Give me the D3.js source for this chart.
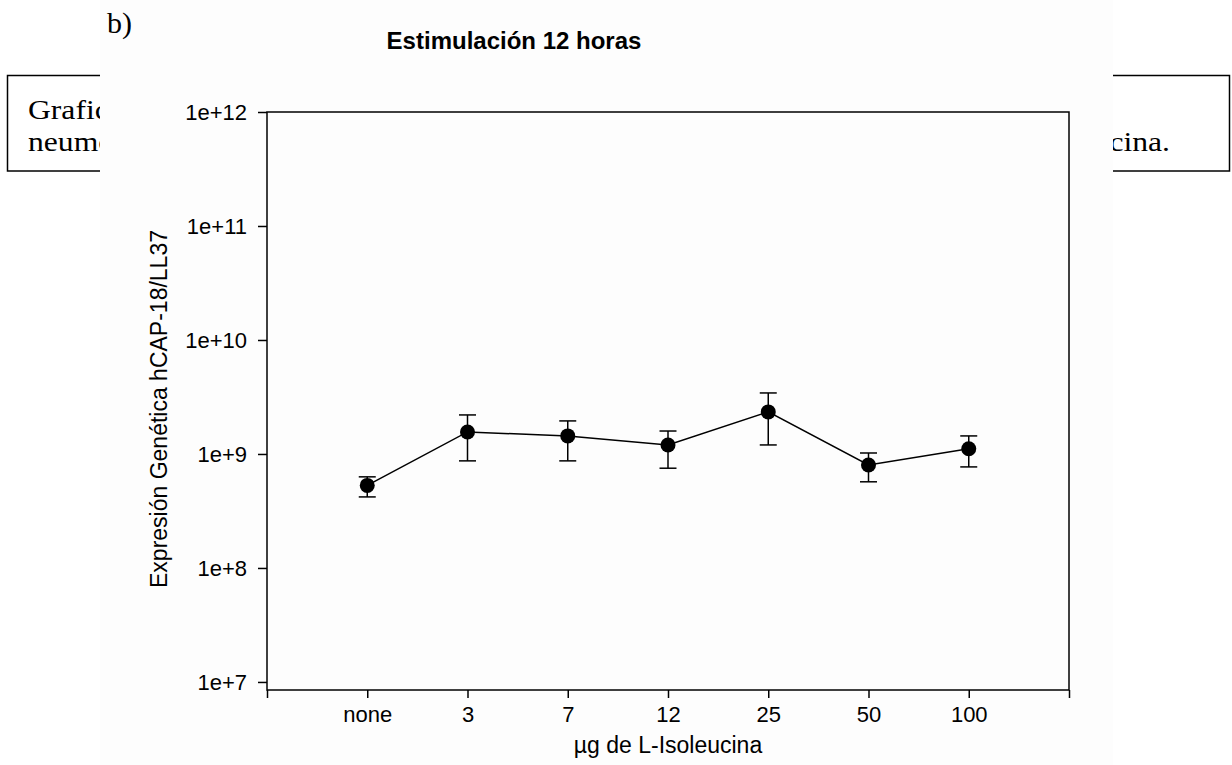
<!DOCTYPE html>
<html>
<head>
<meta charset="utf-8">
<script src="https://cdn.jsdelivr.net/npm/d3@7"></script>
<style>
  html, body { margin: 0; padding: 0; background: #ffffff; }
  svg { display: block; }
</style>
</head>
<body>
<svg id="chart" width="1232" height="765"></svg>
<script>
// Dose of L-Isoleucine (µg) and hCAP-18/LL37 expression after 12 h
const categories = ["none", "3", "7", "12", "25", "50", "100"];
const meanValues = [5.3e8, 1.56e9, 1.44e9, 1.2e9, 2.34e9, 8.0e8, 1.11e9];
const upperValues = [6.3e8, 2.2e9, 1.95e9, 1.59e9, 3.43e9, 1.02e9, 1.44e9];
const lowerValues = [4.2e8, 8.7e8, 8.7e8, 7.5e8, 1.2e9, 5.7e8, 7.7e8];
const yTickValues = [1e7, 1e8, 1e9, 1e10, 1e11, 1e12];

const svg = d3.select("#chart");
const serif = "Liberation Serif, Times New Roman, serif";
const font = "Liberation Sans, Arial, sans-serif";

// Surrounding page: caption box whose text runs under the figure panel
const defs = svg.append("defs");
defs.append("clipPath").attr("id", "leftSide")
  .append("rect").attr("x", 0).attr("y", 0).attr("width", 100).attr("height", 765);
defs.append("clipPath").attr("id", "rightSide")
  .append("rect").attr("x", 1113).attr("y", 0).attr("width", 119).attr("height", 765);

const page = svg.append("g");
page.append("rect")
  .attr("x", 7.5).attr("y", 75.5).attr("width", 1222).attr("height", 95.5)
  .attr("fill", "#ffffff").attr("stroke", "#000").attr("stroke-width", 1.5);
const leftText = page.append("g").attr("clip-path", "url(#leftSide)");
leftText.append("text").attr("transform", "translate(28,119) scale(1.13,1)")
  .attr("font-family", serif).attr("font-size", 28)
  .text("Grafico");
leftText.append("text").attr("transform", "translate(28,151) scale(1.13,1)")
  .attr("font-family", serif).attr("font-size", 28)
  .text("neumo");
page.append("g").attr("clip-path", "url(#rightSide)")
  .append("text").attr("transform", "translate(1170,151) scale(1.13,1)")
  .attr("text-anchor", "end")
  .attr("font-family", serif).attr("font-size", 28)
  .text("ucina.");

// Figure panel
svg.append("rect")
  .attr("x", 100).attr("y", 0).attr("width", 1013).attr("height", 765)
  .attr("fill", "#fdfdfd");

svg.append("text").attr("x", 107).attr("y", 33)
  .attr("font-family", serif).attr("font-size", 30)
  .text("b)");

const x = d3.scaleLinear().domain([-1, 7]).range([267, 1069]);
const y = d3.scaleLog().domain([8.5e6, 1e12]).range([690, 112]);

// Title
svg.append("text")
  .attr("x", 514).attr("y", 49)
  .attr("text-anchor", "middle")
  .attr("font-family", font).attr("font-size", 24).attr("font-weight", "bold")
  .text("Estimulación 12 horas");

// Frame
svg.append("rect")
  .attr("x", x(-1)).attr("y", y(1e12))
  .attr("width", x(7) - x(-1)).attr("height", y(8.5e6) - y(1e12))
  .attr("fill", "none").attr("stroke", "#000").attr("stroke-width", 1.5);

// Y axis
const yAxis = d3.axisLeft(y)
  .tickValues(yTickValues)
  .tickFormat(d => "1e+" + Math.round(Math.log10(d)))
  .tickSize(9).tickPadding(11).tickSizeOuter(0);
const gy = svg.append("g").attr("transform", `translate(${x(-1)},0)`).call(yAxis);
gy.select(".domain").remove();
gy.selectAll(".tick line").attr("stroke-width", 1.5);
gy.selectAll(".tick text").attr("font-family", font).attr("font-size", 22).attr("fill", "#000");

// X axis: ticks at every category plus the two ends
const xAxis = d3.axisBottom(x)
  .tickValues(d3.range(-1, 8))
  .tickFormat(d => (d >= 0 && d < categories.length) ? categories[d] : "")
  .tickSize(8).tickPadding(8).tickSizeOuter(0);
const gx = svg.append("g").attr("transform", `translate(0,${y(8.5e6)})`).call(xAxis);
gx.select(".domain").remove();
gx.selectAll(".tick line").attr("stroke-width", 1.5);
gx.selectAll(".tick text").attr("font-family", font).attr("font-size", 22).attr("fill", "#000");

// Axis titles
svg.append("text")
  .attr("x", 668).attr("y", 753)
  .attr("text-anchor", "middle")
  .attr("font-family", font).attr("font-size", 23)
  .text("µg de L-Isoleucina");

svg.append("text")
  .attr("transform", "translate(167,409) rotate(-90)")
  .attr("text-anchor", "middle")
  .attr("font-family", font).attr("font-size", 23)
  .text("Expresión Genética hCAP-18/LL37");

// Means joined by a line, with error bars and filled markers
const data = categories.map((c, i) => ({ i, mean: meanValues[i], hi: upperValues[i], lo: lowerValues[i] }));

const line = d3.line().x(d => x(d.i)).y(d => y(d.mean));
svg.append("path").datum(data)
  .attr("d", line).attr("fill", "none").attr("stroke", "#000").attr("stroke-width", 1.5);

const err = svg.append("g").attr("stroke", "#000").attr("stroke-width", 1.5);
err.selectAll("line.v").data(data).join("line").attr("class", "v")
  .attr("x1", d => x(d.i)).attr("x2", d => x(d.i))
  .attr("y1", d => y(d.hi)).attr("y2", d => y(d.lo));
err.selectAll("line.t").data(data).join("line").attr("class", "t")
  .attr("x1", d => x(d.i) - 8.5).attr("x2", d => x(d.i) + 8.5)
  .attr("y1", d => y(d.hi)).attr("y2", d => y(d.hi));
err.selectAll("line.b").data(data).join("line").attr("class", "b")
  .attr("x1", d => x(d.i) - 8.5).attr("x2", d => x(d.i) + 8.5)
  .attr("y1", d => y(d.lo)).attr("y2", d => y(d.lo));

svg.selectAll("circle.pt").data(data).join("circle").attr("class", "pt")
  .attr("cx", d => x(d.i)).attr("cy", d => y(d.mean)).attr("r", 7.5)
  .attr("fill", "#000");
</script>
</body>
</html>
